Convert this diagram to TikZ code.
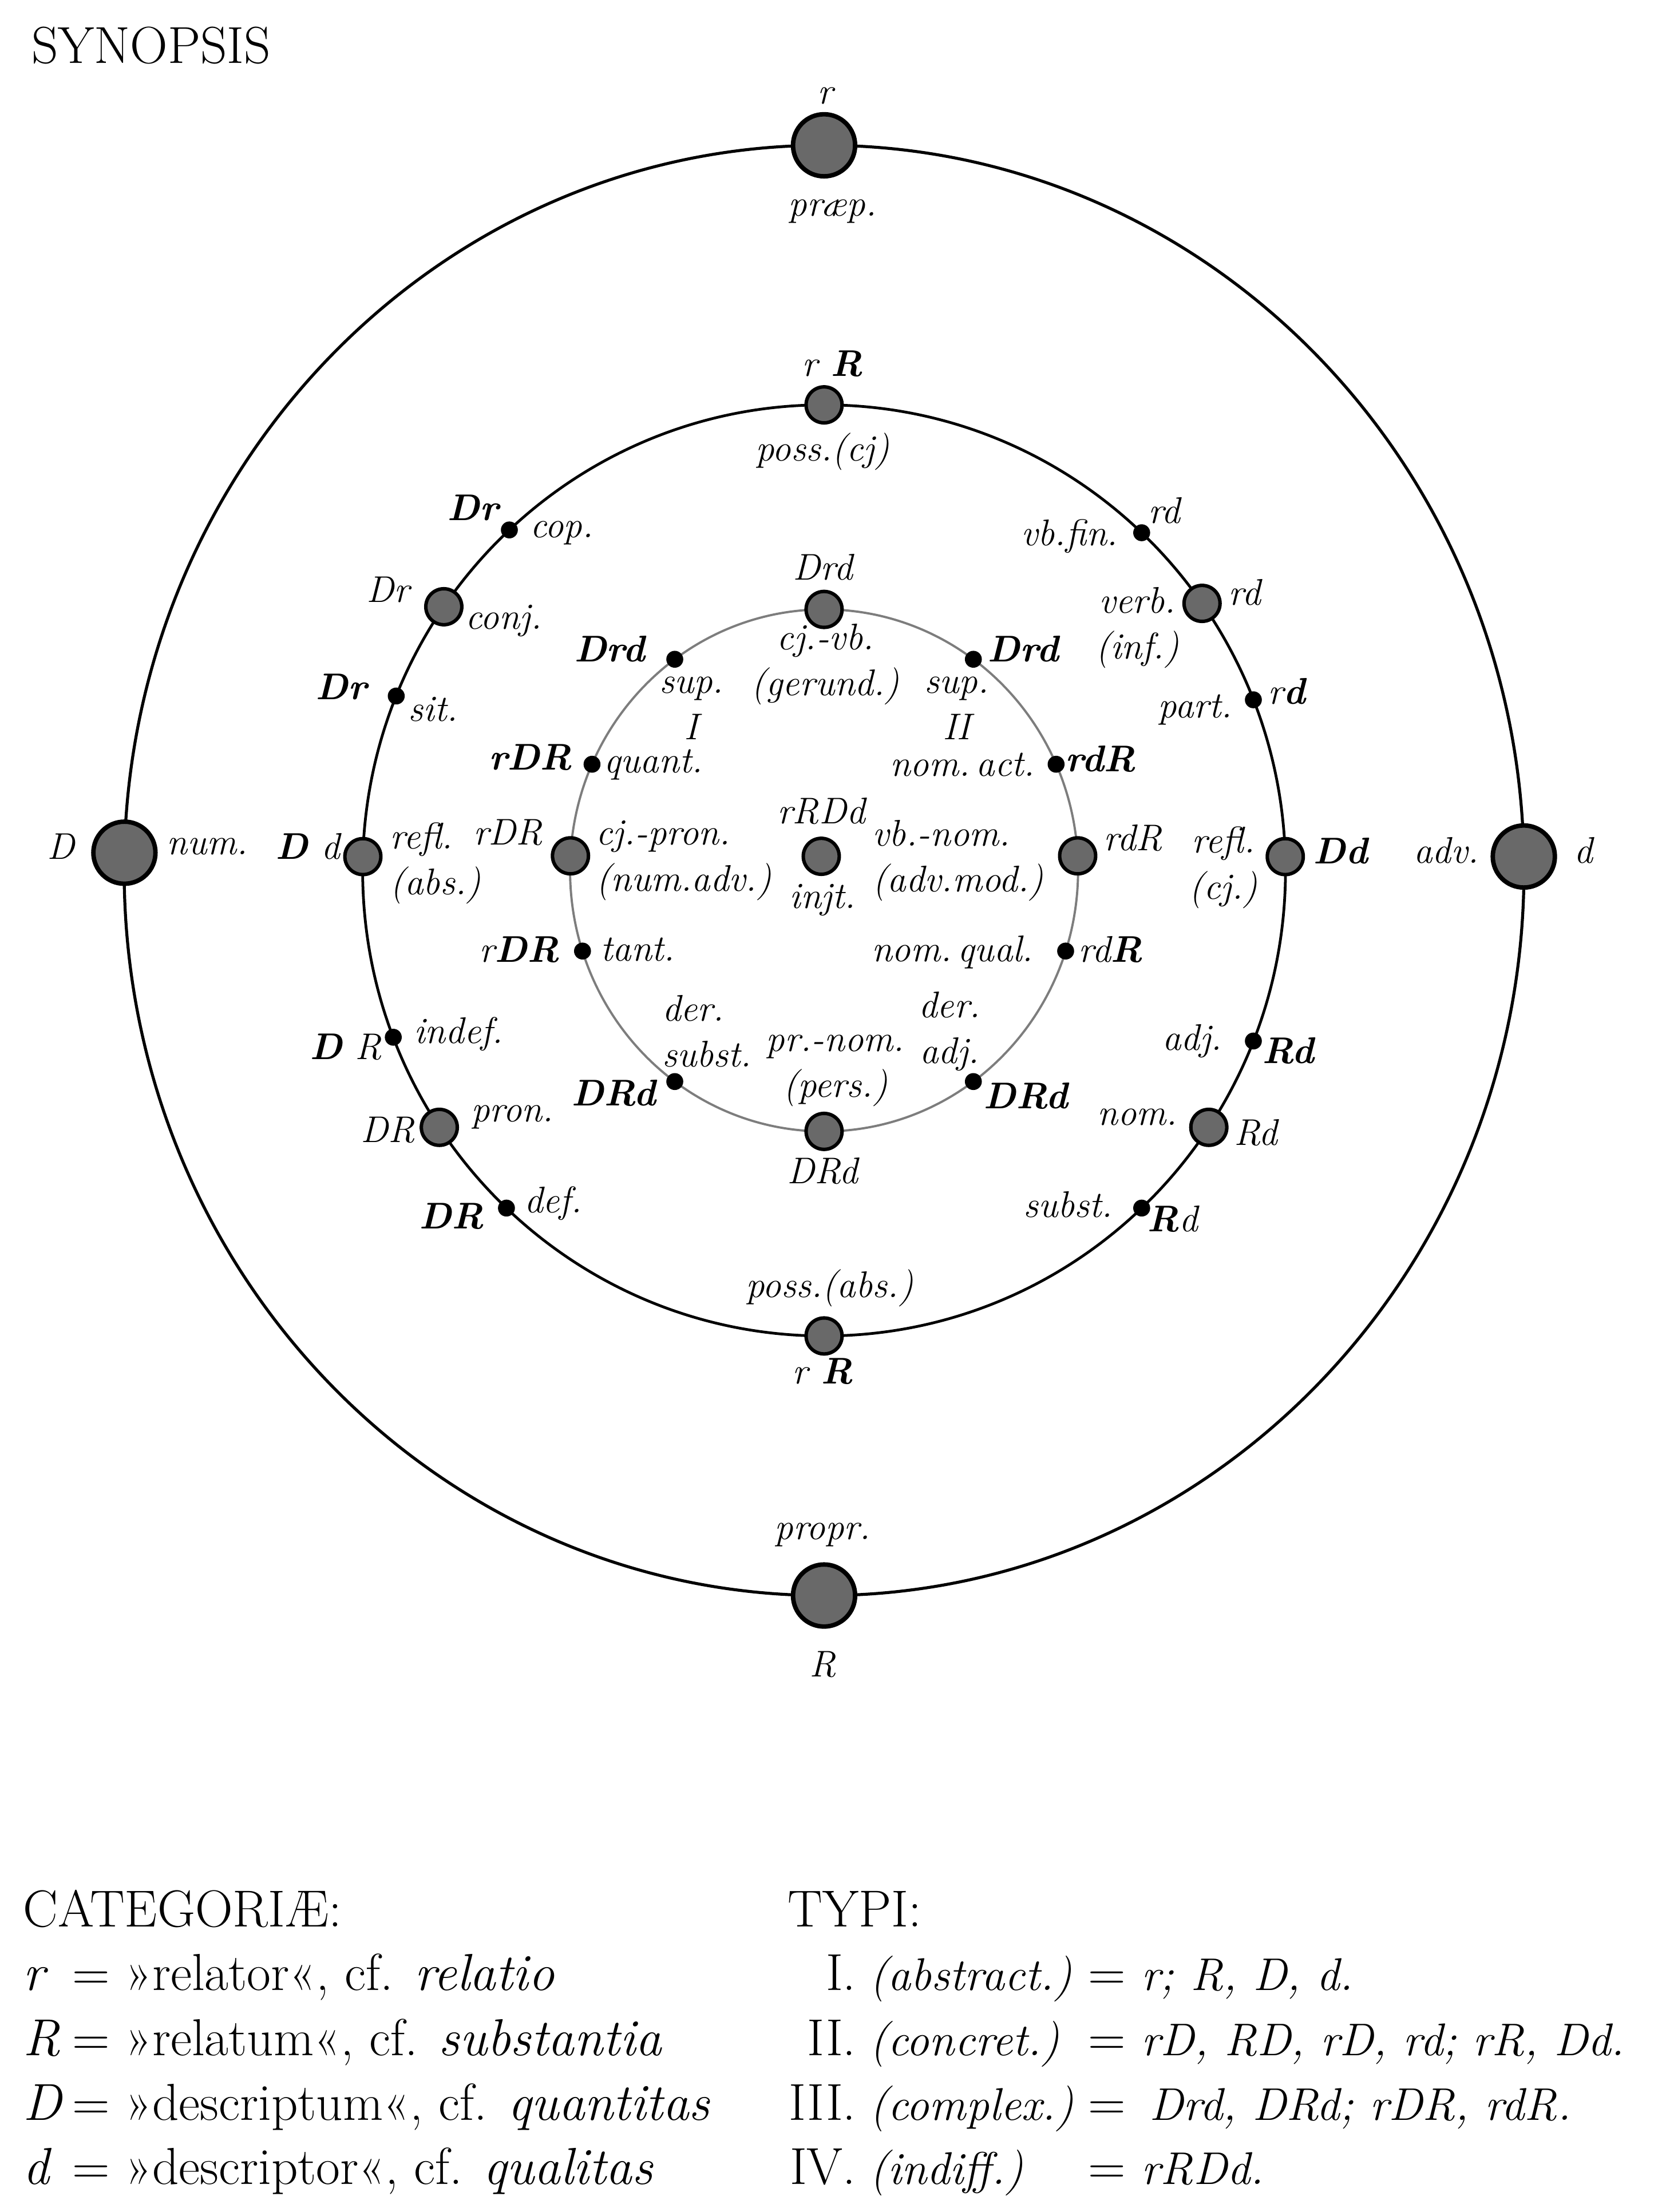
\documentclass[tikz,border=0pt]{standalone}
\usepackage{fontspec}
\usetikzlibrary{positioning}
\definecolor{knobgray}{RGB}{105,105,105}
\definecolor{ringgray}{RGB}{125,125,125}
\newcommand{\Lg}[1]{\textit{#1}}
\newcommand{\Tg}[1]{{\fontsize{18.5}{24}\selectfont\itshape\addfontfeatures{WordSpace=0.7}#1}}

\tikzset{
  bigknob/.style={circle, draw, fill=knobgray, line width=1.8pt, minimum size=8.8mm, inner sep=0pt},
  ringknob/.style={circle, draw, fill=knobgray, line width=1.4pt, minimum size=5.1mm, inner sep=0pt},
  smalldot/.style={circle, fill=black, minimum size=2.4mm, inner sep=0pt},
  lbl/.style={font=\fontsize{15}{18.5}\selectfont\itshape, inner sep=0pt, align=center},
  legendtext/.style={font=\fontsize{21}{25}\selectfont, inner sep=0pt, anchor=base west},
}

\begin{document}
\begin{tikzpicture}[x=0.2mm, y=0.2mm]
\useasboundingbox (-584,-951) rectangle (590.6,617);

    \draw[line width=1.2pt] (0,0) ellipse (496 and 514);
    \draw[line width=1.1pt] (0,0) ellipse (327 and 330);
    \draw[line width=0.9pt, ringgray] (0,0) ellipse (180 and 185);

    % outer ring
    \draw(90:496 and 514) node[bigknob] (r) {};
    \draw(270:496 and 514) node[bigknob] (R) {};
    \draw(178.6:496 and 514) node[bigknob] (D) {};
    \draw(1.1:496 and 514) node[bigknob] (d) {};
    \draw(1,549) node[lbl] (r-a) {r};
    \draw(6,467) node[lbl] (r-b) {præp.};
    \draw(-1,-471) node[lbl] (R-a) {propr.};
    \draw(-1,-563) node[lbl] (R-b) {R};
    \draw(-541,17) node[lbl] (D-a) {D};
    \draw(-437,17) node[lbl] (D-b) {num.};
    \draw(441,14) node[lbl] (d-a) {adv.};
    \draw(538,14) node[lbl] (d-b) {d};

    % middle ring
    \draw(90:327 and 330) node[ringknob] (possc) {};
    \draw(133:327 and 330) node[smalldot] (cop) {};
    \draw(145.5:327 and 330) node[ringknob] (conj) {};
    \draw(158:327 and 330) node[smalldot] (sit) {};
    \draw(178.3:327 and 330) node[ringknob] (reflabs) {};
    \draw(201:327 and 330) node[smalldot] (indef) {};
    \draw(213.5:327 and 330) node[ringknob] (pron) {};
    \draw(226.5:327 and 330) node[smalldot] (def) {};
    \draw(270:327 and 330) node[ringknob] (possa) {};
    \draw(313.5:327 and 330) node[smalldot] (subst) {};
    \draw(326.5:327 and 330) node[ringknob] (nom) {};
    \draw(338.5:327 and 330) node[smalldot] (adj) {};
    \draw(1.7:327 and 330) node[ringknob] (reflcj) {};
    \draw(21.5:327 and 330) node[smalldot] (part) {};
    \draw(35:327 and 330) node[ringknob] (verb) {};
    \draw(46.5:327 and 330) node[smalldot] (vbfin) {};

    \draw(6,359) node[lbl] (possc-a) {r \textbf{R}};
    \draw(-1,297) node[lbl] (possc-b) {poss.(cj)};
    \draw(-249,257) node[lbl] (cop-a) {\textbf{Dr}};
    \draw(-186,239) node[lbl] (cop-b) {cop.};
    \draw(-309,199) node[lbl] (conj-a) {Dr};
    \draw(-227,177) node[lbl] (conj-b) {conj.};
    \draw(-342,130) node[lbl] (sit-a) {\textbf{Dr}};
    \draw(-277,114) node[lbl] (sit-b) {sit.};
    \draw(-366,17) node[lbl] (reflabs-a) {\textbf{D} d};
    \draw(-308,5) node[lbl, anchor=west, align=left] (reflabs-b) {refl.\\(abs.)};
    \draw(-339,-125) node[lbl] (indef-a) {\textbf{D} R};
    \draw(-259,-116) node[lbl] (indef-b) {indef.};
    \draw(-309,-184) node[lbl] (pron-a) {DR};
    \draw(-221,-175) node[lbl] (pron-b) {pron.};
    \draw(-264,-245) node[lbl] (def-a) {\textbf{DR}};
    \draw(-192,-236) node[lbl] (def-b) {def.};
    \draw(4,-296) node[lbl] (possa-a) {poss.(abs.)};
    \draw(-1,-355) node[lbl] (possa-b) {r \textbf{R}};
    \draw(173,-237) node[lbl] (subst-a) {subst.};
    \draw(247,-247) node[lbl] (subst-b) {\textbf{R}d};
    \draw(222,-175) node[lbl] (nom-a) {nom.};
    \draw(306,-186) node[lbl] (nom-b) {Rd};
    \draw(261,-121) node[lbl] (adj-a) {adj.};
    \draw(329,-128) node[lbl] (adj-b) {\textbf{Rd}};
    \draw(283,2) node[lbl] (reflcj-a) {refl.\\(cj.)};
    \draw(366,14) node[lbl] (reflcj-b) {\textbf{Dd}};
    \draw(263,114) node[lbl] (part-a) {part.};
    \draw(328,127) node[lbl] (part-b) {r\textbf{d}};
    \draw(222,172) node[lbl] (verb-a) {verb.\\(inf.)};
    \draw(298,197) node[lbl] (verb-b) {rd};
    \draw(174,237) node[lbl] (vbfin-a) {vb.fin.};
    \draw(241,255) node[lbl] (vbfin-b) {rd};

    % inner ring
    \draw(90:180 and 185) node[ringknob] (cjvb) {};
    \draw(126:180 and 185) node[smalldot] (supi) {};
    \draw(54:180 and 185) node[smalldot] (supii) {};
    \draw(156:180 and 185) node[smalldot] (quant) {};
    \draw(24:180 and 185) node[smalldot] (nomact) {};
    \draw(176.8:180 and 185) node[ringknob] (cjpron) {};
    \draw(3.2:180 and 185) node[ringknob] (vbnom) {};
    \draw(198:180 and 185) node[smalldot] (tant) {};
    \draw(342:180 and 185) node[smalldot] (nomqual) {};
    \draw(234:180 and 185) node[smalldot] (dersubst) {};
    \draw(306:180 and 185) node[smalldot] (deradj) {};
    \draw(270:180 and 185) node[ringknob] (prnom) {};
    \draw(-2,10) node[ringknob] (injt) {};

    \draw(-1,215) node[lbl] (cjvb-a) {Drd};
    \draw(1,146) node[lbl] (cjvb-b) {cj.-vb.\\(gerund.)};
    \draw(-152,157) node[lbl] (supi-a) {\textbf{Drd}};
    \draw(-94,115) node[lbl] (supi-b) {sup.\\I};
    \draw(141,157) node[lbl] (supii-a) {\textbf{Drd}};
    \draw(94,115) node[lbl] (supii-b) {sup.\\II};
    \draw(-208,80) node[lbl] (quant-a) {\textbf{rDR}};
    \draw(-121,75) node[lbl] (quant-b) {quant.};
    \draw(98,75) node[lbl] (nomact-a) {nom.\,act.};
    \draw(196,79) node[lbl] (nomact-b) {\textbf{rdR}};
    \draw(-224,27) node[lbl] (cjpron-a) {rDR};
    \draw(-162,7) node[lbl, anchor=west, align=left] (cjpron-b) {cj.-pron.\\(num.adv.)};
    \draw(-2,42) node[lbl] (injt-a) {rRDd};
    \draw(-1,-21) node[lbl] (injt-b) {injt.};
    \draw(34,7) node[lbl, anchor=west, align=left] (vbnom-a) {vb.-nom.\\(adv.mod.)};
    \draw(219,23) node[lbl] (vbnom-b) {rdR};
    \draw(-216,-56) node[lbl] (tant-a) {r\textbf{DR}};
    \draw(-132,-56) node[lbl] (tant-b) {tant.};
    \draw(91,-58) node[lbl] (nomqual-a) {nom.\,qual.};
    \draw(203,-56) node[lbl] (nomqual-b) {rd\textbf{R}};
    \draw(-115,-114) node[lbl, anchor=west, align=left] (dersubst-a) {der.\\subst.};
    \draw(-149,-158) node[lbl] (dersubst-b) {\textbf{DRd}};
    \draw(8,-142) node[lbl] (prnom-a) {pr.-nom.\\(pers.)};
    \draw(-1,-213) node[lbl] (prnom-b) {DRd};
    \draw(89,-114) node[lbl] (deradj-a) {der.\\adj.};
    \draw(143,-160) node[lbl] (deradj-b) {\textbf{DRd}};

    % legend
    \draw(-562,572) node[legendtext] (title) {SYNOPSIS};
    \draw(-568,-749) node[legendtext] (cat) {CATEGORIÆ:};
    \draw(-568,-794) node[legendtext] (cat-r) {\Lg{r}};
    \draw(-568,-840) node[legendtext] (cat-R) {\Lg{R}};
    \draw(-568,-886) node[legendtext] (cat-D) {\Lg{D}};
    \draw(-568,-931.5) node[legendtext] (cat-d) {\Lg{d}};
    \draw(-533,-794) node[legendtext] (cat-r-t) {= »relator«, cf. \Lg{relatio}};
    \draw(-533,-840) node[legendtext] (cat-R-t) {= »relatum«, cf. \Lg{substantia}};
    \draw(-533,-886) node[legendtext] (cat-D-t) {= »descriptum«, cf. \Lg{quantitas}};
    \draw(-533,-931.5) node[legendtext] (cat-d-t) {= »descriptor«, cf. \Lg{qualitas}};

    \draw(-26,-749) node[legendtext] (typ) {TYPI:};
    \draw(23,-794) node[legendtext, anchor=base east] (typ-i) {I.};
    \draw(23,-840) node[legendtext, anchor=base east] (typ-ii) {II.};
    \draw(23,-886) node[legendtext, anchor=base east] (typ-iii) {III.};
    \draw(23,-931.5) node[legendtext, anchor=base east] (typ-iv) {IV.};
    \draw(32,-794) node[legendtext] (typ-i-a) {\Tg{(abstract.)}};
    \draw(32,-840) node[legendtext] (typ-ii-a) {\Tg{(concret.)}};
    \draw(32,-886) node[legendtext] (typ-iii-a) {\Tg{(complex.)}};
    \draw(32,-931.5) node[legendtext] (typ-iv-a) {\Tg{(indiff.)}};
    \draw(187,-794) node[legendtext] (typ-i-b) {= \Tg{r; R, D, d.}};
    \draw(187,-840) node[legendtext] (typ-ii-b) {= \Tg{rD, RD, rD, rd; rR, Dd.}};
    \draw(187,-886) node[legendtext] (typ-iii-b) {= \Tg{\,Drd, DRd; rDR, rdR.}};
    \draw(187,-931.5) node[legendtext] (typ-iv-b) {= \Tg{rRDd.}};

\end{tikzpicture}
\end{document}
